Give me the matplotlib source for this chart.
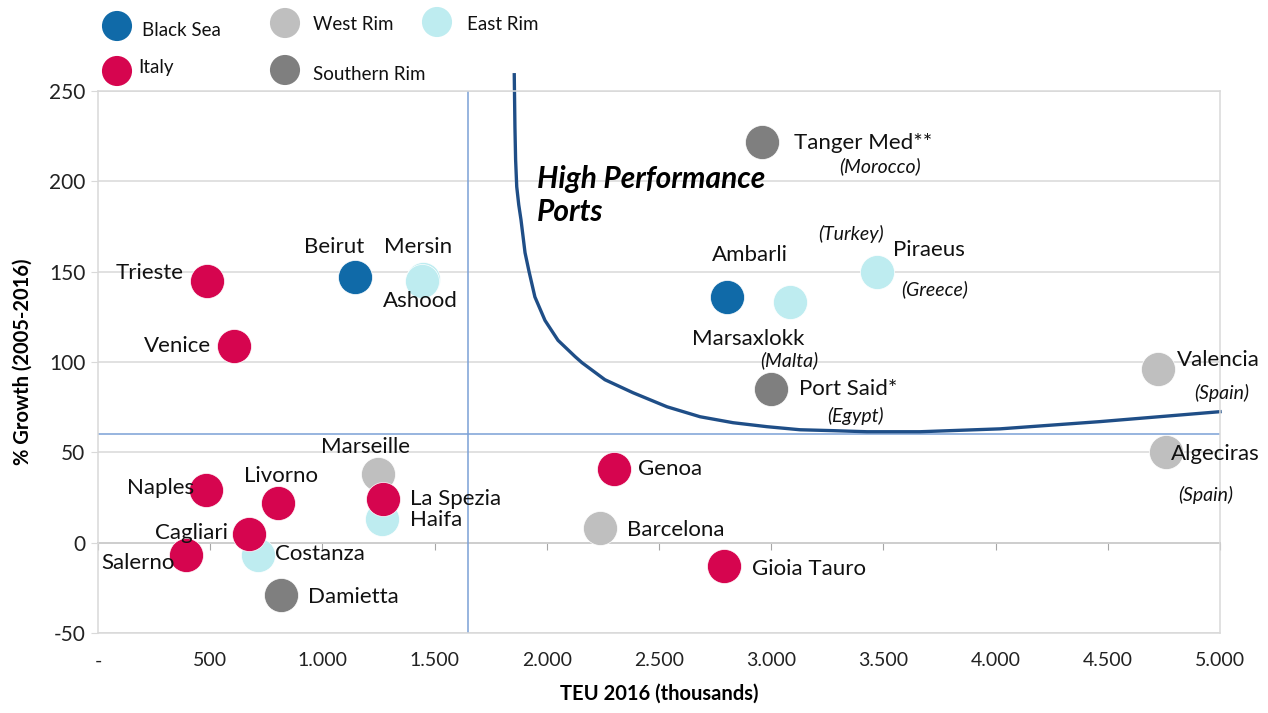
import matplotlib.pyplot as plt
from matplotlib.ticker import FuncFormatter, MultipleLocator

plt.rcParams['font.family'] = ['Lato', 'DejaVu Sans']
plt.rcParams['axes.unicode_minus'] = False

# ---- data (TEU 2016 in thousands, % growth 2005-2016) ----
black_sea_ports = ["Beirut", "Ambarli"]
black_sea_teu = [1145, 2803]
black_sea_growth = [147, 136]

italy_ports = ["Trieste", "Venice", "Naples", "Livorno", "Cagliari", "Salerno",
               "La Spezia", "Genoa", "Gioia Tauro"]
italy_teu = [486, 606, 481, 802, 673, 392, 1270, 2299, 2790]
italy_growth = [145, 109, 29, 22, 5, -7, 24, 41, -13]

west_rim_ports = ["Marseille", "Barcelona", "Valencia", "Algeciras"]
west_rim_teu = [1248, 2237, 4724, 4759]
west_rim_growth = [38, 8, 96, 50]

east_rim_ports = ["Mersin", "Ashood", "Haifa", "Costanza", "Marsaxlokk", "Piraeus"]
east_rim_teu = [1448, 1442, 1266, 713, 3084, 3471]
east_rim_growth = [146, 145, 13, -7, 133, 150]

south_rim_ports = ["Tanger Med**", "Port Said*", "Damietta"]
south_rim_teu = [2959, 2999, 815]
south_rim_growth = [222, 85, -29]

# frontier curve
frontier_teu = [1855, 1858, 1861, 1866, 1875, 1885, 1903, 1921, 1947, 1992,
                2050, 2126, 2157, 2259, 2384, 2536, 2683, 2830, 2981, 3128,
                3275, 3427, 3663, 4020, 4465, 5000]
frontier_growth = [259, 230, 212, 197, 187, 178.7, 160.5, 150, 136, 123,
                   112, 103, 99.6, 90.2, 83, 75.2, 69.7, 66.4, 64.2, 62.5,
                   62, 61.4, 61.4, 63, 67, 72.5]

avg_teu = 1650
avg_growth = 60

groups = [
    ("Black Sea", "#106AA8", black_sea_ports, black_sea_teu, black_sea_growth),
    ("West Rim", "#BFBFBF", west_rim_ports, west_rim_teu, west_rim_growth),
    ("East Rim", "#BEECF0", east_rim_ports, east_rim_teu, east_rim_growth),
    ("Italy", "#D6054F", italy_ports, italy_teu, italy_growth),
    ("Southern Rim", "#7F7F7F", south_rim_ports, south_rim_teu, south_rim_growth),
]

# label offsets in pixels (dx, dy up, alignment)
label_pos = {
    "Trieste": (-23, 8, "right"), "Venice": (-23, 0, "right"),
    "Beirut": (-21, 30, "center"), "Mersin": (-39, 32, "left"),
    "Ashood": (-39, -20, "left"), "Naples": (-12, 2, "right"),
    "Livorno": (3, 27, "center"), "Cagliari": (-21, 1, "right"),
    "Salerno": (-11, -8, "right"), "Costanza": (17, 1, "left"),
    "Damietta": (27, -2, "left"), "Marseille": (-13, 27, "center"),
    "La Spezia": (27, 0, "left"), "Haifa": (28, -1, "left"),
    "Genoa": (24, 0, "left"), "Barcelona": (27, -2, "left"),
    "Gioia Tauro": (28, -3, "left"), "Tanger Med**": (32, -1, "left"),
    "Piraeus": (16, 22, "left"), "Ambarli": (23, 42, "center"),
    "Marsaxlokk": (-42, -37, "center"), "Port Said*": (28, 0, "left"),
    "Valencia": (19, 9, "left"), "Algeciras": (5, -2, "left"),
}
country_notes = {
    "Tanger Med**": ("(Morocco)", 118, -25), "Piraeus": ("(Greece)", 58, -18),
    "Ambarli": ("(Turkey)", 124, 63), "Marsaxlokk": ("(Malta)", -1, -58),
    "Port Said*": ("(Egypt)", 84, -27), "Valencia": ("(Spain)", 64, -24),
    "Algeciras": ("(Spain)", 40, -43),
}

fig = plt.figure(figsize=(12.68, 7.13), dpi=100)
ax = fig.add_axes([98 / 1268, 80 / 713, 1122 / 1268, 542 / 713])

ax.set_xlim(0, 5000)
ax.set_ylim(-50, 250)
ax.yaxis.set_major_locator(MultipleLocator(50))
ax.xaxis.set_major_locator(MultipleLocator(500))
ax.grid(axis='y', color='#D9D9D9', linewidth=1.1, zorder=0)
ax.set_axisbelow(True)
for s in ax.spines.values():
    s.set_color('#D9D9D9')
    s.set_linewidth(1.1)


def fmt_x(v, pos):
    if v == 0:
        return "-"
    if v < 1000:
        return f"{int(v)}"
    return f"{v:,.0f}".replace(",", ".")


ax.xaxis.set_major_formatter(FuncFormatter(fmt_x))
ax.tick_params(axis='x', length=0, pad=14, labelsize=14, colors='#222222')
ax.tick_params(axis='y', length=5, color='#D9D9D9', pad=4, labelsize=15, labelcolor='#222222')

# axis line at zero growth with tick marks
sec = ax.secondary_xaxis(0, transform=ax.transData)
sec.xaxis.set_major_locator(MultipleLocator(500))
sec.tick_params(axis='x', length=5, color='#A6A6A6', labelbottom=False)
sec.spines['bottom'].set_color('#A6A6A6')
sec.spines['bottom'].set_linewidth(1.3)

ax.axvline(avg_teu, color='#7BA0D6', linewidth=1.1, zorder=1)
ax.axhline(avg_growth, color='#7BA0D6', linewidth=1.1, zorder=1)

ax.plot(frontier_teu, frontier_growth, color='#1F4E87', linewidth=2.4,
        clip_on=False, zorder=2, solid_joinstyle='round')

for name, color, ports, teu, growth in groups:
    ax.scatter(teu, growth, s=600, color=color, edgecolors='white',
               linewidths=0.5, zorder=3)
    for p, x, y in zip(ports, teu, growth):
        dx, dy, ha = label_pos[p]
        ax.annotate(p, (x, y), xytext=(dx * 0.72, dy * 0.72),
                    textcoords='offset points', ha=ha, va='center',
                    fontsize=16, color='#111111', zorder=4)
        if p in country_notes:
            note, nx, ny = country_notes[p]
            ax.annotate(note, (x, y), xytext=(nx * 0.72, ny * 0.72),
                        textcoords='offset points', ha='center', va='center',
                        fontsize=14, style='italic', color='#111111', zorder=4)

ax.text(1956, 192, "High Performance\nPorts", fontsize=21.5, fontweight='bold',
        style='italic', ha='left', va='center', linespacing=1.2, color='black')

ax.set_xlabel("TEU 2016 (thousands)", fontsize=14.5, fontweight='bold', labelpad=10)
ax.set_ylabel("% Growth (2005-2016)", fontsize=14.5, fontweight='bold', labelpad=12)

# legend drawn in pixel space above the plot
leg = fig.add_axes([0, 0, 1, 1], zorder=5)
leg.set_xlim(0, 1268)
leg.set_ylim(713, 0)
leg.axis('off')
legend_pos = {
    "Black Sea": (117, 26, 142, 30), "West Rim": (285, 23, 313, 25),
    "East Rim": (437, 22, 467, 24), "Italy": (117, 71, 138, 67),
    "Southern Rim": (285, 70, 313, 75),
}
for name, color, *_ in groups:
    mx, my, tx, ty = legend_pos[name]
    leg.scatter([mx], [my], s=470, color=color, edgecolors='none')
    leg.text(tx, ty, name, fontsize=13.5, ha='left', va='center', color='#111111')

fig.savefig("out.png", dpi=100)
